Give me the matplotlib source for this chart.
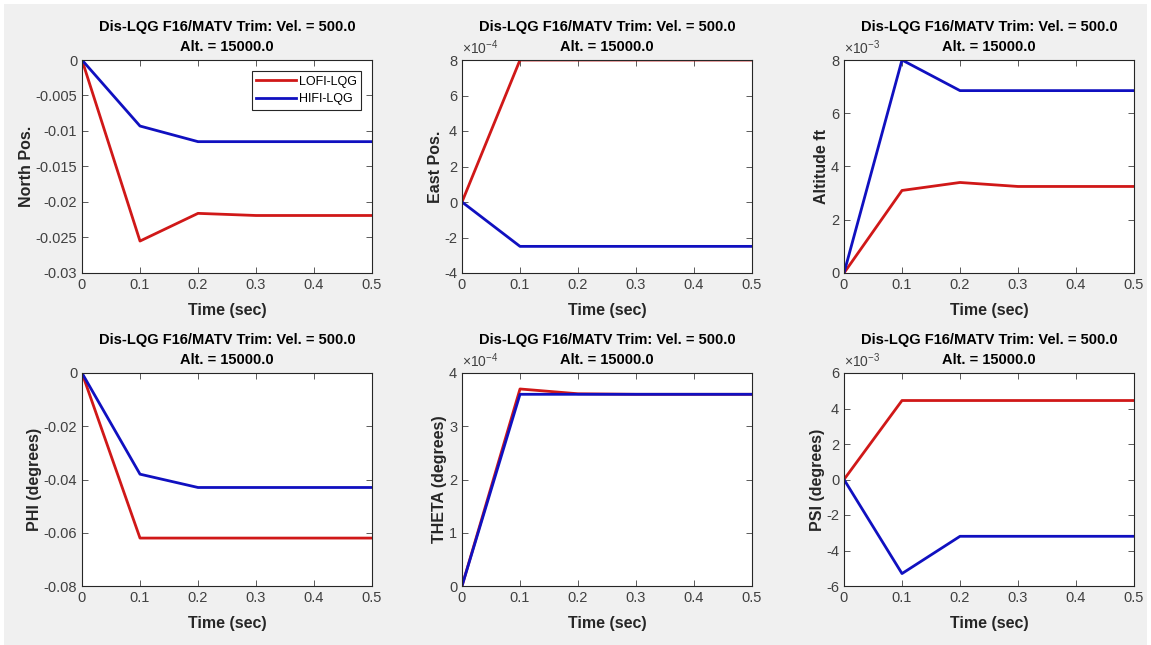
import matplotlib
matplotlib.use('Agg')
import matplotlib.pyplot as plt
import matplotlib.ticker as mticker
from matplotlib.patches import Rectangle

plt.rcParams['font.family'] = ['Liberation Sans', 'DejaVu Sans']
plt.rcParams['axes.unicode_minus'] = False
plt.rcParams['mathtext.fontset'] = 'custom'
plt.rcParams['mathtext.rm'] = 'Liberation Sans'

time = [0.0, 0.1, 0.2, 0.3, 0.4, 0.5]

# LOFI-LQG responses
lofi_north = [0.0, -0.0255, -0.0216, -0.0219, -0.0219, -0.0219]
lofi_east = [0.0, 8.0e-4, 8.0e-4, 8.0e-4, 8.0e-4, 8.0e-4]
lofi_alt = [0.0, 3.1e-3, 3.4e-3, 3.25e-3, 3.25e-3, 3.25e-3]
lofi_phi = [0.0, -0.062, -0.062, -0.062, -0.062, -0.062]
lofi_theta = [0.0, 3.7e-4, 3.61e-4, 3.6e-4, 3.6e-4, 3.6e-4]
lofi_psi = [0.0, 4.45e-3, 4.45e-3, 4.45e-3, 4.45e-3, 4.45e-3]

# HIFI-LQG responses
hifi_north = [0.0, -0.0093, -0.0115, -0.0115, -0.0115, -0.0115]
hifi_east = [0.0, -2.5e-4, -2.5e-4, -2.5e-4, -2.5e-4, -2.5e-4]
hifi_alt = [0.0, 8.0e-3, 6.85e-3, 6.85e-3, 6.85e-3, 6.85e-3]
hifi_phi = [0.0, -0.038, -0.043, -0.043, -0.043, -0.043]
hifi_theta = [0.0, 3.6e-4, 3.6e-4, 3.6e-4, 3.6e-4, 3.6e-4]
hifi_psi = [0.0, -5.3e-3, -3.2e-3, -3.2e-3, -3.2e-3, -3.2e-3]

ylabels = ['North Pos.', 'East Pos.', 'Altitude ft',
           'PHI (degrees)', 'THETA (degrees)', 'PSI (degrees)']
ylims = [(-0.03, 0), (-4e-4, 8e-4), (0, 8e-3),
         (-0.08, 0), (0, 4e-4), (-6e-3, 6e-3)]
ysteps = [0.005, 2e-4, 2e-3, 0.02, 1e-4, 2e-3]
exponents = [0, -4, -3, 0, -4, -3]
lofi = [lofi_north, lofi_east, lofi_alt, lofi_phi, lofi_theta, lofi_psi]
hifi = [hifi_north, hifi_east, hifi_alt, hifi_phi, hifi_theta, hifi_psi]

title1 = 'Dis-LQG F16/MATV Trim: Vel. = 500.0'
title2 = 'Alt. = 15000.0'
red = '#d01818'
blue = '#1010c0'
tick_col = '#404040'
dark = '#262626'

fig = plt.figure(figsize=(11.51, 6.45), dpi=100, facecolor='white')
fig.patches.append(Rectangle((4 / 1151, 0), 1 - 8 / 1151, 1 - 4 / 645,
                             transform=fig.transFigure, facecolor='#f0f0f0',
                             edgecolor='none', zorder=-10))

lefts = [82 / 1151, 462 / 1151, 844 / 1151]
bottoms = [1 - 273 / 645, 1 - 586 / 645]
w, h = 290 / 1151, 213 / 645


def make_fmt(e):
    scale = 10.0 ** e
    return mticker.FuncFormatter(lambda v, p: f'{round(v / scale, 6):g}')


for i in range(6):
    r, c = divmod(i, 3)
    ax = fig.add_axes([lefts[c], bottoms[r], w, h])
    ax.plot(time, lofi[i], color=red, lw=2, label='LOFI-LQG')
    ax.plot(time, hifi[i], color=blue, lw=2, label='HIFI-LQG')
    ax.set_xlim(0, 0.5)
    ax.set_ylim(*ylims[i])
    ax.yaxis.set_major_locator(mticker.MultipleLocator(ysteps[i]))
    ax.xaxis.set_major_locator(mticker.MultipleLocator(0.1))
    ax.xaxis.set_major_formatter(mticker.FuncFormatter(lambda v, p: f'{v:g}'))
    ax.yaxis.set_major_formatter(make_fmt(exponents[i]))
    if exponents[i] != 0:
        ax.annotate(r'$\times10^{%d}$' % exponents[i], xy=(0, 1),
                    xycoords='axes fraction', xytext=(0, 2),
                    textcoords='offset points', ha='left', va='bottom',
                    fontsize=10, color=tick_col)
    ax.tick_params(direction='in', top=True, right=True, labelsize=10.5,
                   colors=tick_col, length=4, width=0.6)
    for s in ax.spines.values():
        s.set_color(dark)
        s.set_linewidth(0.8)
    ax.annotate(title1, xy=(0.5, 1), xycoords='axes fraction', xytext=(0, 24),
                textcoords='offset points', ha='center', va='center',
                fontsize=10.5, fontweight='bold')
    ax.annotate(title2, xy=(0.5, 1), xycoords='axes fraction', xytext=(0, 9.5),
                textcoords='offset points', ha='center', va='center',
                fontsize=10.5, fontweight='bold')
    ax.set_xlabel('Time (sec)', fontsize=11.5, fontweight='bold', color=dark, labelpad=8)
    ax.set_ylabel(ylabels[i], fontsize=11.5, fontweight='bold', color=dark, labelpad=1)
    if i == 0:
        leg = ax.legend(loc='upper right', fontsize=9, fancybox=False,
                        framealpha=1, edgecolor=dark, handlelength=3.2,
                        borderaxespad=0.9, handletextpad=0.2, labelspacing=0.45,
                        borderpad=0.35)
        leg.get_frame().set_linewidth(0.8)

fig.savefig('out.png', dpi=100, facecolor=fig.get_facecolor())
